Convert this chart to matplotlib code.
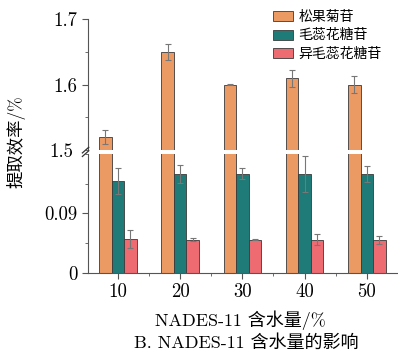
import numpy as np
import matplotlib.pyplot as plt
from matplotlib.ticker import MultipleLocator

plt.rcParams['font.family'] = ['cmr10', 'Noto Sans CJK SC']
plt.rcParams['axes.unicode_minus'] = False
plt.rcParams['axes.formatter.use_mathtext'] = True

water = ['10', '20', '30', '40', '50']
names = ['松果菊苷', '毛蕊花糖苷', '异毛蕊花糖苷']
echinacoside = [1.52, 1.65, 1.60, 1.61, 1.60]
echinacoside_err = [0.010, 0.012, 0.001, 0.013, 0.013]
acteoside = [0.139, 0.150, 0.150, 0.150, 0.150]
acteoside_err = [0.020, 0.014, 0.008, 0.027, 0.012]
isoacteoside = [0.051, 0.050, 0.050, 0.050, 0.050]
isoacteoside_err = [0.013, 0.002, 0.001, 0.008, 0.006]

colors = ['#EC9A64', '#1E7B78', '#EE6B72']
values = [echinacoside, acteoside, isoacteoside]
errors = [echinacoside_err, acteoside_err, isoacteoside_err]

fig = plt.figure(figsize=(3.98, 3.54), dpi=100)
ax_top = fig.add_axes([0.221, 0.576, 0.779, 0.370])
ax_bot = fig.add_axes([0.221, 0.230, 0.779, 0.335])

x = np.arange(len(water))
w = 0.2
offsets = [-w, 0, w]
err_kw = dict(ecolor='#777777', elinewidth=0.8, capsize=2.5, capthick=0.8)
for ax in (ax_top, ax_bot):
    for vals, errs, col, off, name in zip(values, errors, colors, offsets, names):
        ax.bar(x + off, vals, w, yerr=errs, color=col, edgecolor='#3a3a3a',
               linewidth=0.6, error_kw=err_kw, label=name)
    ax.set_xlim(-0.48, 4.5)
    for s in ('top', 'right'):
        ax.spines[s].set_visible(False)
    ax.spines['left'].set_color('#555555')
    ax.spines['bottom'].set_color('#555555')
    ax.tick_params(axis='both', labelsize=13.5, color='#555555', length=4, width=0.8)
    ax.tick_params(which='minor', color='#555555', length=2.5, width=0.6)

ax_top.set_ylim(1.5, 1.7)
ax_top.yaxis.set_minor_locator(MultipleLocator(0.05))
ax_top.set_yticks([1.6, 1.7])
ax_top.set_yticklabels(['1.6', '1.7'])
ax_top.spines['bottom'].set_visible(False)
ax_top.tick_params(axis='x', bottom=False, labelbottom=False)

ax_bot.set_ylim(0, 0.18)
ax_bot.set_yticks([0, 0.09])
ax_bot.set_yticklabels(['0', '0.09'])
ax_bot.yaxis.set_minor_locator(MultipleLocator(0.045))
ax_bot.set_xticks(x)
ax_bot.set_xticklabels(water)
ax_bot.set_xticks(x[:-1] + 0.5, minor=True)

# 1.5 label sits at the break
fig.text(0.221 - 0.036, 0.571, '1.5', ha='right', va='center', fontsize=13.5)

# break marks on the left spine
for yy in (0.566, 0.576):
    fig.add_artist(plt.Line2D([0.221 - 0.014, 0.221 + 0.002], [yy - 0.008, yy + 0.008],
                              color='#333333', lw=0.9, transform=fig.transFigure))

ax_top.legend(loc='upper right', bbox_to_anchor=(0.975, 1.125), frameon=False,
              fontsize=10, handlelength=1.45, handleheight=0.75, labelspacing=0.38,
              handletextpad=0.4, borderaxespad=0.2)

fig.text(0.04, 0.60, '提取效率/%', rotation=90, ha='center', va='center', fontsize=12.5)
fig.text(0.603, 0.095, 'NADES-11 含水量/%', ha='center', va='center', fontsize=13)
fig.text(0.618, 0.033, 'B. NADES-11 含水量的影响', ha='center', va='center', fontsize=13)

fig.savefig('out.png', dpi=100)
